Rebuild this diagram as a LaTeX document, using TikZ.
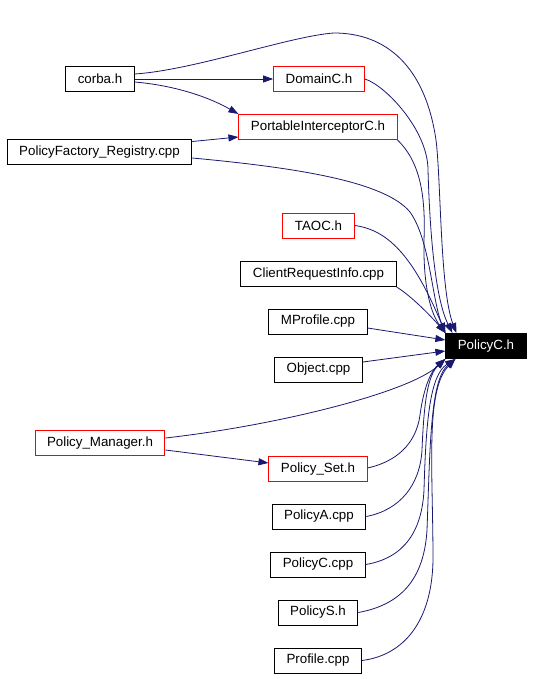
\documentclass[tikz,border=0pt]{standalone}
\usepackage{fontspec}
\setmainfont{Liberation Sans}
\usetikzlibrary{arrows.meta}
\definecolor{navy}{HTML}{191970}
\begin{document}
\begin{tikzpicture}[x=1pt,y=-1pt,
  >={Triangle[length=10pt,width=7pt]},
  file/.style={draw,rectangle,line width=1pt,minimum height=25pt,inner xsep=12pt,inner ysep=0pt,font=\fontsize{13.33}{16}\selectfont},
  hdr/.style={file,draw=red},
  cur/.style={file,fill=black,text=white},
  dep/.style={->,color=navy,line width=0.8pt}]
\useasboundingbox (0,0) rectangle (532,679);
%% nodes
\node[file] (corba) at (100,79) {corba.h};
\node[hdr] (DomainC) at (319,79) {DomainC.h};
\node[hdr] (PIC) at (318,127) {PortableInterceptorC.h};
\node[file] (PFReg) at (99.5,152.5) {PolicyFactory\_Registry.cpp};
\node[hdr] (TAOC) at (318.5,225.5) {TAOC.h};
\node[file] (CRInfo) at (318.5,274) {ClientRequestInfo.cpp};
\node[file] (MProf) at (318,321.5) {MProfile.cpp};
\node[file] (Obj) at (318.5,369.5) {Object.cpp};
\node[cur] (PolicyCh) at (486,346) {PolicyC.h};
\node[hdr] (PMgr) at (100,443) {Policy\_Manager.h};
\node[hdr] (PSet) at (318,469) {Policy\_Set.h};
\node[file] (PolicyA) at (319,516.5) {PolicyA.cpp};
\node[file] (PolicyCcpp) at (318,564.5) {PolicyC.cpp};
\node[file] (PolicyS) at (318,612.5) {PolicyS.h};
\node[file] (Profile) at (318,660.5) {Profile.cpp};
%%% edges
\draw[dep] (corba) -- (DomainC);
\draw[dep] ([yshift=-3pt]corba.east) .. controls (170,85) and (205,95) .. (PIC.north west);
\draw[dep] ([yshift=5pt]corba.east) .. controls (195,70) and (290,36) .. (334,33) .. controls (385,33) and (425,65) .. (436,140) .. controls (441,180) and (440,290) .. ([xshift=11pt]PolicyCh.north west);
\draw[dep] ([yshift=11pt]PFReg.east) -- ([yshift=-10pt]PIC.west);
\draw[dep] ([yshift=-5.5pt]PFReg.east) .. controls (300,168) and (385,182) .. (410,212) .. controls (430,240) and (432,300) .. (PolicyCh.north west);
\draw[dep] (DomainC.east) .. controls (385,85) and (428,130) .. (428,170) .. controls (430,240) and (436,300) .. ([xshift=7pt]PolicyCh.north west);
\draw[dep] (PIC.south east) .. controls (418,160) and (426,190) .. (424,240) .. controls (423,290) and (432,315) .. (PolicyCh.north west);
\draw[dep] (TAOC.east) .. controls (390,230) and (415,260) .. (PolicyCh.north west);
\draw[dep] (CRInfo.south east) .. controls (410,295) and (430,315) .. (PolicyCh.north west);
\draw[dep] ([yshift=-6.5pt]MProf.east) -- ([yshift=6pt]PolicyCh.west);
\draw[dep] ([yshift=7.5pt]Obj.east) -- ([yshift=-5pt]PolicyCh.west);
\draw[dep] ([yshift=5pt]PMgr.east) .. controls (280,425) and (410,392) .. (PolicyCh.south west);
\draw[dep] ([yshift=-7pt]PMgr.east) -- ([yshift=6pt]PSet.west);
\draw[dep] ([yshift=1pt]PSet.east) .. controls (395,462) and (416,445) .. (420,415) .. controls (424,385) and (432,370) .. (PolicyCh.south west);
\draw[dep] (PolicyA.east) .. controls (400,510) and (420,485) .. (422,450) .. controls (424,400) and (428,375) .. (PolicyCh.south west);
\draw[dep] (PolicyCcpp.east) .. controls (405,558) and (422,530) .. (424,490) .. controls (426,420) and (430,375) .. ([xshift=10pt]PolicyCh.south west);
\draw[dep] (PolicyS.east) .. controls (400,605) and (424,580) .. (427,530) .. controls (430,450) and (430,380) .. ([xshift=10pt]PolicyCh.south west);
\draw[dep] (Profile.east) .. controls (405,655) and (432,620) .. (433,560) .. controls (433,470) and (425,390) .. ([xshift=10pt]PolicyCh.south west);
\end{tikzpicture}
\end{document}
